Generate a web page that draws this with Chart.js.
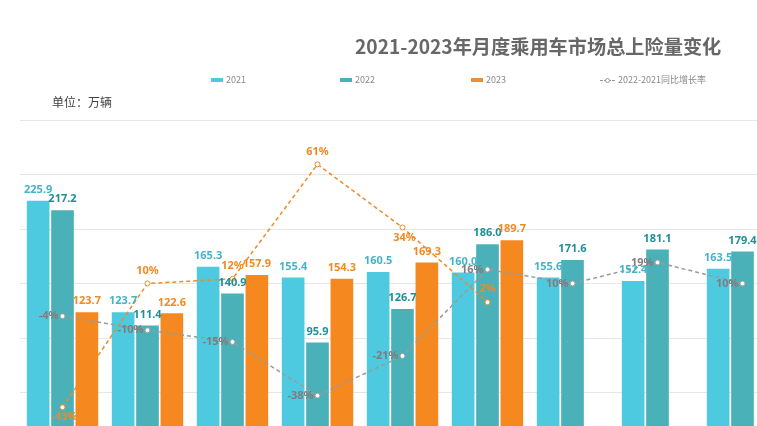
<!DOCTYPE html>
<html>
<head>
<meta charset="utf-8">
<script src="https://cdn.jsdelivr.net/npm/chart.js@4/dist/chart.umd.min.js"></script>
<style>
body { margin: 0; overflow: hidden; background: #fff; }
#wrap { position: relative; width: 790px; height: 470px; }
#chart { position: absolute; left: 0; top: 0; }
.txt { position: absolute; white-space: nowrap; font-family: "Noto Sans CJK SC", "Noto Sans", sans-serif; }
.title { left: 355px; top: 34px; font-size: 19.2px; line-height: 24px; font-weight: bold; color: #676767; }
.unit { left: 52px; top: 94px; font-size: 12px; line-height: 16px; color: #404040; }
.leg { top: 74px; font-size: 9px; line-height: 12px; color: #8a8a8a; }
.mk { position: absolute; width: 12px; height: 4px; top: 78px; }
.dash { position: absolute; top: 80px; width: 15px; border-top: 1px dashed #9a9a9a; }
.dot { position: absolute; top: 78px; width: 3px; height: 3px; border: 1px solid #9a9a9a; border-radius: 50%; background: #fff; }
</style>
</head>
<body>
<div id="wrap">
  <canvas id="chart" width="790" height="470"></canvas>
  <div class="txt title">2021-2023年月度乘用车市场总上险量变化</div>
  <div class="txt unit">单位：万辆</div>
  <div class="mk" style="left:211px;background:#4dcadf"></div>
  <div class="txt leg" style="left:226px">2021</div>
  <div class="mk" style="left:340px;background:#4bb1b8"></div>
  <div class="txt leg" style="left:355px">2022</div>
  <div class="mk" style="left:471px;background:#e8913a"></div>
  <div class="txt leg" style="left:486px">2023</div>
  <div class="dash" style="left:600px"></div>
  <div class="dot" style="left:605px"></div>
  <div class="txt leg" style="left:618px">2022-2021同比增长率</div>
</div>
<script>
// 月份（图中只露出前 9 个月）
const months = ["1月", "2月", "3月", "4月", "5月", "6月", "7月", "8月", "9月"];
const sales2021 = [225.9, 123.7, 165.3, 155.4, 160.5, 160.0, 155.6, 152.4, 163.5];
const sales2022 = [217.2, 111.4, 140.9, 95.9, 126.7, 186.0, 171.6, 181.1, 179.4];
const sales2023 = [123.7, 122.6, 157.9, 154.3, 169.3, 189.7, null, null, null];
// 同比增长率 %
const growth2221 = [-4, -10, -15, -38, -21, 16, 10, 19, 10];
const growth2322 = [-43, 10, 12, 61, 34, 2, null, null, null];

const valueLabels = {
    id: "valueLabels",
    afterDatasetsDraw(chart) {
        const ctx = chart.ctx;
        chart.data.datasets.forEach((ds, di) => {
            const lab = ds.labelStyle;
            if (!lab) return;
            const meta = chart.getDatasetMeta(di);
            ctx.save();
            ctx.font = "bold 11px 'Noto Sans', 'Open Sans', sans-serif";
            ctx.fillStyle = lab.color;
            ctx.textBaseline = "middle";
            meta.data.forEach((el, i) => {
                const v = ds.data[i];
                if (v == null) return;
                const text = lab.pct ? v + "%" : v.toFixed(1);
                if (lab.side === "left") {
                    ctx.textAlign = "right";
                    ctx.fillText(text, el.x - 4, el.y);
                } else if (lab.pos && lab.pos[i] === "below") {
                    ctx.textAlign = "center";
                    ctx.fillText(text, el.x + 2, el.y + 10);
                } else {
                    ctx.textAlign = "center";
                    ctx.fillText(text, el.x, el.y - (lab.pct ? 13 : 11));
                }
            });
            ctx.restore();
        });
    }
};

const barOpts = { categoryPercentage: 0.86, barPercentage: 0.93, yAxisID: "y", order: 2 };

new Chart(document.getElementById("chart").getContext("2d"), {
    type: "bar",
    data: {
        labels: months,
        datasets: [
            {
                type: "line",
                label: "2022-2021同比增长率",
                data: growth2221,
                yAxisID: "y1",
                order: 0,
                borderColor: "#9a9a9a",
                borderWidth: 1.5,
                borderDash: [4, 3],
                pointRadius: 2.5,
                pointBackgroundColor: "#fff",
                pointBorderColor: "#9a9a9a",
                pointBorderWidth: 1,
                labelStyle: { color: "#7d7d7d", pct: true, side: "left" }
            },
            {
                type: "line",
                label: "2023-2022同比增长率",
                data: growth2322,
                yAxisID: "y1",
                order: 0,
                borderColor: "#f08a24",
                borderWidth: 1.5,
                borderDash: [4, 3],
                pointRadius: 2.5,
                pointBackgroundColor: "#fff",
                pointBorderColor: "#f08a24",
                pointBorderWidth: 1,
                labelStyle: { color: "#f08a24", pct: true, pos: ["below", "above", "above", "above", "below", "above"] }
            },
            Object.assign({ label: "2021", data: sales2021, backgroundColor: "#4dcadf",
                labelStyle: { color: "#45b3c9" } }, barOpts),
            Object.assign({ label: "2022", data: sales2022, backgroundColor: "#4bb1b8",
                labelStyle: { color: "#1f8f98" } }, barOpts),
            Object.assign({ label: "2023", data: sales2023, backgroundColor: "#f5891f",
                labelStyle: { color: "#f08a24" } }, barOpts)
        ]
    },
    options: {
        responsive: false,
        animation: false,
        layout: { padding: { left: 20, right: 1, top: 120, bottom: 23 } },
        plugins: {
            legend: { display: false },
            title: { display: false },
            tooltip: { enabled: false }
        },
        scales: {
            x: { display: false },
            y: {
                min: 0,
                max: 300,
                ticks: { display: false, stepSize: 50 },
                grid: { color: "#e6e6e6", drawTicks: false },
                border: { display: false },
                afterFit: (scale) => { scale.width = 0; }
            },
            y1: { display: false, position: "right", min: -60, max: 80 }
        }
    },
    plugins: [valueLabels]
});
</script>
</body>
</html>
